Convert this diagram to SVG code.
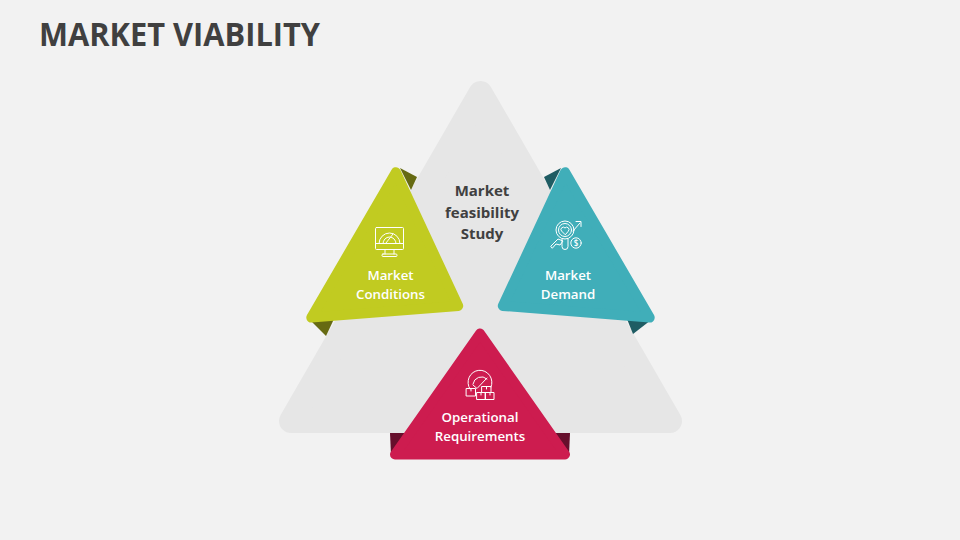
<svg xmlns="http://www.w3.org/2000/svg" width="960" height="540" viewBox="0 0 960 540">
<style>
.t{font-family:"Open Sans","Liberation Sans",sans-serif}
.title{font-size:32px;font-weight:700;fill:#404040}
.center{font-size:15px;font-weight:700;fill:#404040;text-anchor:middle}
.lab{font-size:13.300px;font-weight:600;fill:#fff;text-anchor:middle}
.ic{fill:none;stroke:#fff;stroke-width:1;stroke-linejoin:round;stroke-linecap:round}
.tri{stroke-width:10;stroke-linejoin:round}
</style>
<rect width="960" height="540" fill="#f2f2f2"/>
<text class="t title" x="39" y="46" textLength="281" lengthAdjust="spacingAndGlyphs">MARKET VIABILITY</text>
<g id="study">
<polygon points="480.5,93 670,421 291,421" fill="#e6e6e6" stroke="#e6e6e6" stroke-width="24" stroke-linejoin="round"/>
<text class="t center" x="482" y="196">Market</text>
<text class="t center" x="482" y="217.500">feasibility</text>
<text class="t center" x="482" y="239">Study</text>
</g>
<g id="conditions">
<polygon points="400,168 417,177 411,190" fill="#666a12"/>
<polygon points="310,320 334,319 326,336" fill="#666a12"/>
<polygon class="tri" points="395.900,172.200 458.200,305.900 311.300,317.600" fill="#c1cb21" stroke="#c1cb21"/>
<g class="ic">
<rect x="375.500" y="227.500" width="28" height="22" rx="1"/>
<path d="M375.500,243.500H403.500M379,243.500A10.500,10.500 0 0 1 400,243.500M383,243.500A6.500,6.500 0 0 1 396,243.500M386,243L393,234M385,249.500V254M394,249.500V254"/>
<rect x="382" y="254" width="15" height="2.500" rx="1"/>
</g>
<text class="t lab" x="390.500" y="279.500">Market</text>
<text class="t lab" x="390.500" y="298.500">Conditions</text>
</g>
<g id="demand">
<polygon points="561,168 544,177 550,190" fill="#1f5c63"/>
<polygon points="651,320 627,319 633,334" fill="#1f5c63"/>
<polygon class="tri" points="565.100,172.200 502.800,305.900 649.700,317.600" fill="#40aeb9" stroke="#40aeb9"/>
<g class="ic">
<circle cx="565" cy="230" r="9"/>
<circle cx="565" cy="230" r="6.500"/>
<path d="M565,234.500L561.500,231A2.200,2.200 0 0 1 565,228A2.200,2.200 0 0 1 568.500,231Z"/>
<path d="M562,239V246.500A3,3 0 0 0 568,246.500V239M573,231L580,223M576,221.500H581V226.500"/>
<circle cx="576" cy="243" r="5.200"/>
<path d="M551,246L558,239L563,241L560,245L556,244L552.500,248Z"/>
</g>
<text class="t" x="576" y="245.800" font-size="8" font-weight="600" fill="#fff" text-anchor="middle">$</text>
<text class="t lab" x="568" y="279.500">Market</text>
<text class="t lab" x="568" y="298.500">Demand</text>
</g>
<g id="requirements">
<polygon points="390,433 410,433 391,455" fill="#660f2c"/>
<polygon points="570,433 550,433 569,455" fill="#660f2c"/>
<polygon class="tri" points="480,333.500 565,454.500 395,454.500" fill="#cd1c4f" stroke="#cd1c4f"/>
<g class="ic">
<path d="M470,389A12,12 0 1 1 491,387M473,384A8.500,8.500 0 0 1 487,379"/>
<path d="M473,385L477,388.500L487,378"/>
<rect x="466.500" y="388.500" width="9" height="7.500"/>
<rect x="482" y="386.500" width="9" height="6"/>
<rect x="477" y="392.500" width="8.500" height="7"/>
<rect x="485.500" y="392.500" width="8.500" height="7"/>
<path d="M471,388.500V391M486.500,386.500V389M481,392.500V395M490,392.500V395"/>
</g>
<text class="t lab" x="480" y="421.500">Operational</text>
<text class="t lab" x="480" y="440.500">Requirements</text>
</g>
</svg>
